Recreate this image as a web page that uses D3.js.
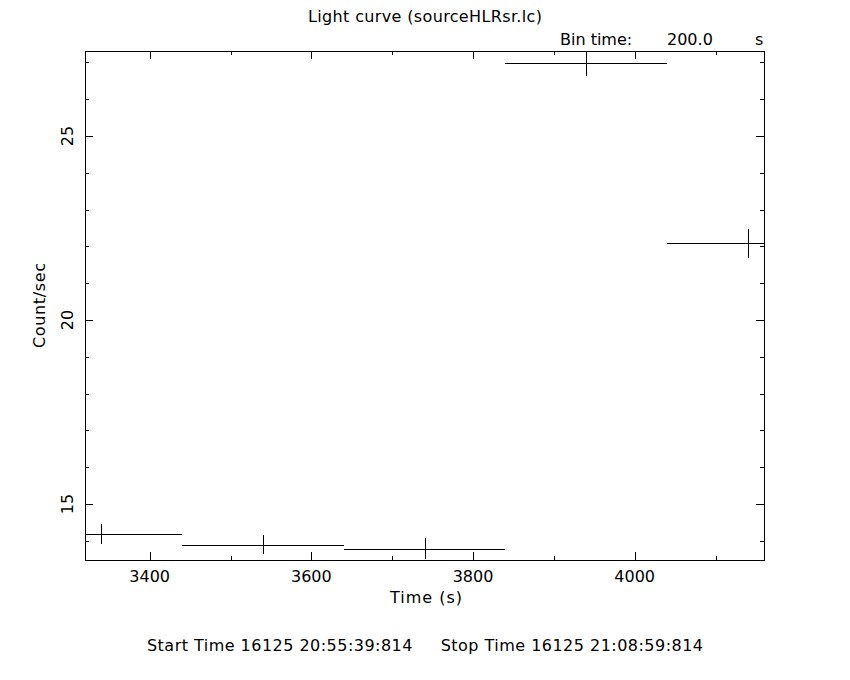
<!DOCTYPE html>
<html>
<head>
<meta charset="utf-8">
<script src="https://cdn.jsdelivr.net/npm/d3@7"></script>
<style>
  html, body { margin: 0; padding: 0; background: #fff; }
  svg text { font-family: "DejaVu Sans", sans-serif; fill: #000; }
</style>
</head>
<body>
<svg id="chart" width="850" height="680"></svg>
<script>
// ---- data ----
const binCenters = [3340, 3540, 3740, 3940, 4140];
const binHalfWidth = 100;
const countRates = [14.19, 13.90, 13.79, 26.98, 22.08];
const rateErrors = [0.27, 0.27, 0.285, 0.34, 0.39];
const xMajorTicks = [3400, 3600, 3800, 4000];
const xMinorTicks = [3400, 3500, 3600, 3700, 3800, 3900, 4000, 4100];
const yMajorTicks = [15, 20, 25];
const yMinorTicks = [14, 15, 16, 17, 18, 19, 20, 21, 22, 23, 24, 25, 26, 27];
const titleText = "Light curve (sourceHLRsr.lc)";
const xLabel = "Time (s)";
const yLabel = "Count/sec";
const binTimeLabel = ["Bin time:", "200.0", "s"];
const footerText = "Start Time 16125 20:55:39:814     Stop Time 16125 21:08:59:814";

// ---- layout ----
const L = 85, R = 764, T = 51, B = 560;
const svg = d3.select("#chart");
const x = d3.scaleLinear().domain([3320, 4160]).range([L, R]);
const y = d3.scaleLinear().domain([13.48, 27.31]).range([B, T]);

const g = svg.append("g").attr("shape-rendering", "crispEdges");

// clip
svg.append("clipPath").attr("id", "plotclip")
  .append("rect").attr("x", L).attr("y", T).attr("width", R - L).attr("height", B - T);

// frame
g.append("rect").attr("x", L + 0.5).attr("y", T + 0.5)
  .attr("width", R - L).attr("height", B - T)
  .attr("fill", "none").attr("stroke", "#000").attr("stroke-width", 1);

function styleAxis(sel) {
  sel.select(".domain").remove();
  sel.selectAll("line").attr("stroke", "#000");
}
const bottomMinor = d3.axisTop(x).tickValues(xMinorTicks).tickSize(4).tickFormat("");
const bottomMajor = d3.axisTop(x).tickValues(xMajorTicks).tickSize(8).tickFormat("");
const topMinor = d3.axisBottom(x).tickValues(xMinorTicks).tickSize(4).tickFormat("");
const topMajor = d3.axisBottom(x).tickValues(xMajorTicks).tickSize(8).tickFormat("");
g.append("g").attr("transform", `translate(0,${B})`).call(bottomMinor).call(styleAxis);
g.append("g").attr("transform", `translate(0,${B})`).call(bottomMajor).call(styleAxis);
g.append("g").attr("transform", `translate(0,${T})`).call(topMinor).call(styleAxis);
g.append("g").attr("transform", `translate(0,${T})`).call(topMajor).call(styleAxis);

const leftMinor = d3.axisRight(y).tickValues(yMinorTicks).tickSize(4).tickFormat("");
const leftMajor = d3.axisRight(y).tickValues(yMajorTicks).tickSize(8).tickFormat("");
const rightMinor = d3.axisLeft(y).tickValues(yMinorTicks).tickSize(4).tickFormat("");
const rightMajor = d3.axisLeft(y).tickValues(yMajorTicks).tickSize(8).tickFormat("");
g.append("g").attr("transform", `translate(${L},0)`).call(leftMinor).call(styleAxis);
g.append("g").attr("transform", `translate(${L},0)`).call(leftMajor).call(styleAxis);
g.append("g").attr("transform", `translate(${R},0)`).call(rightMinor).call(styleAxis);
g.append("g").attr("transform", `translate(${R},0)`).call(rightMajor).call(styleAxis);

// tick labels
svg.append("g").selectAll("text").data(xMajorTicks).join("text")
  .attr("x", d => x(d)).attr("y", 582)
  .attr("text-anchor", "middle").attr("font-size", 16)
  .text(d => d);
svg.append("g").selectAll("text").data(yMajorTicks).join("text")
  .attr("transform", d => `translate(73,${y(d)}) rotate(-90)`)
  .attr("text-anchor", "middle").attr("font-size", 16)
  .text(d => d);

// data: horizontal bin lines and vertical error bars
const pts = binCenters.map((t, i) => ({ t, r: countRates[i], e: rateErrors[i] }));
const dg = g.append("g").attr("clip-path", "url(#plotclip)");
dg.selectAll("line.h").data(pts).join("line").attr("class", "h")
  .attr("x1", d => x(d.t - binHalfWidth)).attr("x2", d => x(d.t + binHalfWidth))
  .attr("y1", d => Math.round(y(d.r)) + 0.5).attr("y2", d => Math.round(y(d.r)) + 0.5)
  .attr("stroke", "#000").attr("stroke-width", 1);
dg.selectAll("line.v").data(pts).join("line").attr("class", "v")
  .attr("x1", d => Math.round(x(d.t)) + 0.5).attr("x2", d => Math.round(x(d.t)) + 0.5)
  .attr("y1", d => y(d.r - d.e)).attr("y2", d => y(d.r + d.e))
  .attr("stroke", "#000").attr("stroke-width", 1);

// texts
svg.append("text").attr("x", 308).attr("y", 22)
  .attr("font-size", 16).attr("textLength", 234).attr("lengthAdjust", "spacing")
  .text(titleText);
svg.append("text").attr("x", 560).attr("y", 45).attr("font-size", 16).text(binTimeLabel[0]);
svg.append("text").attr("x", 667).attr("y", 45).attr("font-size", 16).text(binTimeLabel[1]);
svg.append("text").attr("x", 755).attr("y", 45).attr("font-size", 16).text(binTimeLabel[2]);
svg.append("text").attr("x", 390).attr("y", 603)
  .attr("font-size", 16).attr("textLength", 72).attr("lengthAdjust", "spacing")
  .text(xLabel);
svg.append("text").attr("transform", "translate(45,348) rotate(-90)")
  .attr("font-size", 16).attr("textLength", 85).attr("lengthAdjust", "spacing")
  .text(yLabel);
svg.append("text").attr("x", 147).attr("y", 651)
  .attr("font-size", 16).attr("xml:space", "preserve").style("white-space", "pre")
  .attr("textLength", 556).attr("lengthAdjust", "spacing")
  .text(footerText);
</script>
</body>
</html>
